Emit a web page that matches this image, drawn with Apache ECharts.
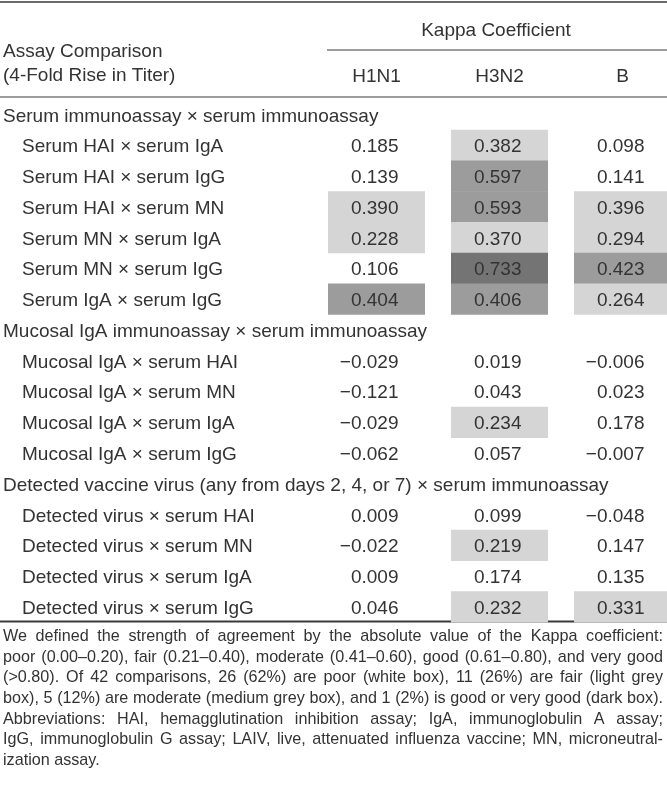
<!DOCTYPE html>
<html>
<head>
<meta charset="utf-8">
<script src="https://cdn.jsdelivr.net/npm/echarts@6/dist/echarts.min.js"></script>
<style>
html,body{margin:0;padding:0;background:#fff;}
#chart{width:667px;height:798px;}
</style>
</head>
<body>
<div id="chart"></div>
<script>
// ---------- data ----------
const columns = ['H1N1', 'H3N2', 'B'];
const sectionTitles = [
  'Serum immunoassay × serum immunoassay',
  'Mucosal IgA immunoassay × serum immunoassay',
  'Detected vaccine virus (any from days 2, 4, or 7) × serum immunoassay'
];
const serumRows = [
  'Serum HAI × serum IgA', 'Serum HAI × serum IgG', 'Serum HAI × serum MN',
  'Serum MN × serum IgA', 'Serum MN × serum IgG', 'Serum IgA × serum IgG'
];
const mucosalRows = [
  'Mucosal IgA × serum HAI', 'Mucosal IgA × serum MN',
  'Mucosal IgA × serum IgA', 'Mucosal IgA × serum IgG'
];
const virusRows = [
  'Detected virus × serum HAI', 'Detected virus × serum MN',
  'Detected virus × serum IgA', 'Detected virus × serum IgG'
];
const h1n1Values = [0.185, 0.139, 0.390, 0.228, 0.106, 0.404, -0.029, -0.121, -0.029, -0.062, 0.009, -0.022, 0.009, 0.046];
const h3n2Values = [0.382, 0.597, 0.593, 0.370, 0.733, 0.406, 0.019, 0.043, 0.234, 0.057, 0.099, 0.219, 0.174, 0.232];
const bValues    = [0.098, 0.141, 0.396, 0.294, 0.423, 0.264, -0.006, 0.023, 0.178, -0.007, -0.048, 0.147, 0.135, 0.331];
const footnote1 = [
  'We defined the strength of agreement by the absolute value of the Kappa coefficient:',
  'poor (0.00–0.20), fair (0.21–0.40), moderate (0.41–0.60), good (0.61–0.80), and very good',
  '(>0.80). Of 42 comparisons,  26 (62%) are poor (white box), 11 (26%) are fair (light grey',
  'box), 5 (12%) are moderate (medium grey box), and 1 (2%) is good or very good (dark box).'
];
const footnote2 = [
  'Abbreviations: HAI, hemagglutination inhibition assay; IgA, immunoglobulin A assay;',
  'IgG, immunoglobulin G assay; LAIV, live, attenuated influenza vaccine; MN, microneutral-',
  'ization assay.'
];

// ---------- build categories ----------
const FONT = '"Liberation Sans", Arial, sans-serif';
const TXT = '#333333';
const FS = 19;
const groups = [serumRows, mucosalRows, virusRows];
const yCats = [];
const sectionSet = new Set();
const dataRowCat = [];
groups.forEach((g, gi) => {
  sectionSet.add(yCats.length);
  yCats.push(sectionTitles[gi]);
  g.forEach(r => { dataRowCat.push(yCats.length); yCats.push(r); });
});
const colValues = [h1n1Values, h3n2Values, bValues];
const cellData = [];
colValues.forEach((vals, ci) => {
  vals.forEach((v, ri) => cellData.push([ci, dataRowCat[ri], v]));
});

function shade(v) {
  const a = Math.abs(v);
  if (a > 0.60) return '#747474';
  if (a > 0.40) return '#9c9c9c';
  if (a > 0.20) return '#d5d5d5';
  return null;
}
function fmt(v) {
  const s = Math.abs(v).toFixed(3);
  return v < 0 ? '\u2212' + s : s;
}

// ---------- justified footnotes ----------
const LEFT = 3, RIGHT = 663;
const ctx = document.createElement('canvas').getContext('2d');
ctx.font = '20px ' + FONT;
const refW = ctx.measureText(footnote1[3].replace(/\s+/g, ' ')).width;
const NOTE_SIZE = Math.min(17, 20 * (RIGHT - LEFT - 2) / refW);
const NOTE_FONT = NOTE_SIZE.toFixed(2) + 'px ' + FONT;
ctx.font = NOTE_FONT;
const graphics = [];
function addLine(text, y, justify) {
  if (!justify) {
    graphics.push({type: 'text', x: LEFT, y: y, style: {text: text, font: NOTE_FONT, fill: TXT, textAlign: 'left', textVerticalAlign: 'middle'}});
    return;
  }
  const words = text.split(/\s+/);
  const widths = words.map(w => ctx.measureText(w).width);
  const total = widths.reduce((a, b) => a + b, 0);
  const gap = (RIGHT - LEFT - total) / (words.length - 1);
  let x = LEFT;
  words.forEach((w, i) => {
    graphics.push({type: 'text', x: x, y: y, style: {text: w, font: NOTE_FONT, fill: TXT, textAlign: 'left', textVerticalAlign: 'middle'}});
    x += widths[i] + gap;
  });
}
const p1Y = [637, 657.5, 678, 698.5];
footnote1.forEach((t, i) => addLine(t, p1Y[i], true));
const p2Y = [719.5, 740, 760.5];
footnote2.forEach((t, i) => addLine(t, p2Y[i], i < footnote2.length - 1));

// header texts and rules
const HFONT = FS + 'px ' + FONT;
graphics.push(
  {type: 'text', x: 496, y: 31, style: {text: 'Kappa Coefficient', font: HFONT, fill: TXT, textAlign: 'center', textVerticalAlign: 'middle'}},
  {type: 'text', x: 3, y: 52, style: {text: 'Assay Comparison', font: HFONT, fill: TXT, textAlign: 'left', textVerticalAlign: 'middle'}},
  {type: 'text', x: 3, y: 76, style: {text: '(4-Fold Rise in Titer)', font: HFONT, fill: TXT, textAlign: 'left', textVerticalAlign: 'middle'}},
  {type: 'line', shape: {x1: 0, y1: 2, x2: 667, y2: 2}, style: {stroke: '#3a3a3a', lineWidth: 1.6}},
  {type: 'line', shape: {x1: 327, y1: 50, x2: 667, y2: 50}, style: {stroke: '#3a3a3a', lineWidth: 1.2}},
  {type: 'line', shape: {x1: 0, y1: 97, x2: 667, y2: 97}, style: {stroke: '#3a3a3a', lineWidth: 1.2}},
  {type: 'line', shape: {x1: 0, y1: 621.5, x2: 667, y2: 621.5}, style: {stroke: '#3a3a3a', lineWidth: 1.8}}
);

// ---------- chart ----------
const chart = echarts.init(document.getElementById('chart'), null, {renderer: 'canvas'});
const GRID_LEFT = 315;
chart.setOption({
  animation: false,
  backgroundColor: '#ffffff',
  textStyle: {fontFamily: FONT, color: TXT},
  grid: {left: GRID_LEFT, top: 99, width: 369, height: 523, outerBoundsMode: 'none', containLabel: false},
  xAxis: {
    type: 'category', data: columns, position: 'top',
    axisLine: {show: false}, axisTick: {show: false}, splitLine: {show: false},
    axisLabel: {margin: 13, fontSize: FS, color: TXT, fontFamily: FONT}
  },
  yAxis: {
    type: 'category', data: yCats, inverse: true,
    axisLine: {show: false}, axisTick: {show: false}, splitLine: {show: false},
    axisLabel: {
      interval: 0, align: 'left', margin: GRID_LEFT - 3,
      fontSize: FS, color: TXT, fontFamily: FONT,
      formatter: function (val, idx) {
        return sectionSet.has(idx) ? '{s|' + val + '}' : '{d|' + val + '}';
      },
      rich: {
        s: {fontSize: FS, color: TXT, fontFamily: FONT, padding: [4, 0, 0, 0]},
        d: {fontSize: FS, color: TXT, fontFamily: FONT, padding: [4, 0, 0, 19]}
      }
    }
  },
  series: [{
    type: 'custom',
    data: cellData,
    clip: false,
    renderItem: function (params, api) {
      const ci = api.value(0), ri = api.value(1), v = api.value(2);
      const p = api.coord([ci, ri]);
      const sz = api.size([1, 1]);
      const children = [];
      const f = shade(v);
      if (f) {
        children.push({type: 'rect', shape: {x: p[0] - 48.5, y: p[1] - sz[1] / 2, width: 97, height: sz[1] + 0.5}, style: {fill: f}});
      }
      children.push({type: 'text', x: p[0] + 22, y: p[1] + 2, style: {text: fmt(v), font: FS + 'px ' + FONT, fill: TXT, textAlign: 'right', textVerticalAlign: 'middle'}});
      return {type: 'group', children: children};
    }
  }],
  graphic: graphics
});
</script>
</body>
</html>
